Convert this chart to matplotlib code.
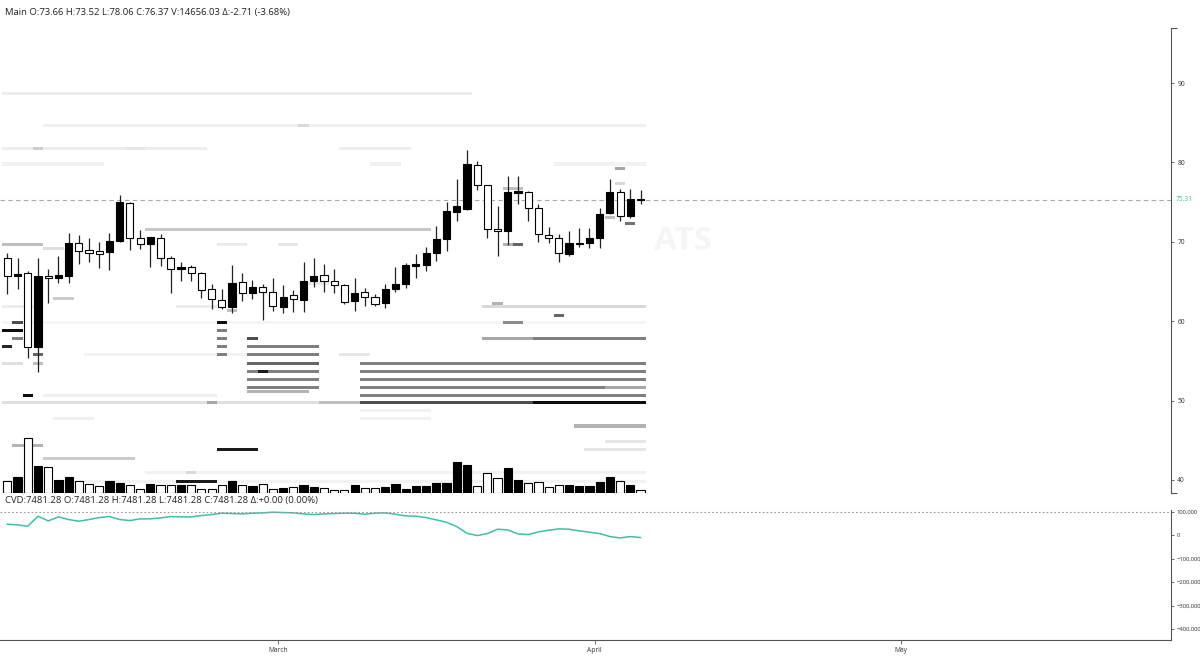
import numpy as np
import pandas as pd
import matplotlib
matplotlib.use('Agg')
import matplotlib.pyplot as plt
import matplotlib.dates as mdates

plt.rcParams['font.family'] = ['Open Sans', 'DejaVu Sans']

# daily candles, Feb 3 .. Apr 5
dates = pd.date_range('2024-02-03', periods=63, freq='D')

opens = [68.0, 65.7, 66.1, 56.8, 65.7, 65.5, 65.7, 69.8, 69.0, 68.8,
         68.7, 70.1, 74.9, 70.5, 69.7, 70.5, 67.9, 66.6, 66.8, 66.1,
         64.1, 62.7, 61.8, 64.9, 63.6, 64.3, 63.7, 61.8, 63.3, 62.7,
         65.1, 65.8, 65.1, 64.6, 62.5, 63.7, 63.0, 62.3, 64.0, 64.7,
         67.0, 67.1, 68.6, 70.3, 73.8, 74.1, 79.7, 77.1, 71.6, 71.3,
         76.2, 76.3, 74.3, 70.9, 70.5, 68.5, 69.7, 69.8, 70.5, 73.6,
         76.3, 73.2, 75.4]
highs = [68.6, 67.9, 66.3, 68.0, 66.6, 68.2, 71.1, 70.9, 70.5, 70.0,
         71.1, 75.9, 75.0, 71.5, 70.6, 71.0, 68.2, 67.4, 67.1, 66.2,
         64.7, 64.1, 67.1, 66.1, 65.2, 64.7, 65.5, 64.5, 63.9, 67.4,
         68.0, 67.2, 66.6, 64.7, 65.5, 64.2, 63.4, 64.7, 66.8, 67.3,
         68.5, 69.3, 72.0, 75.0, 77.9, 81.6, 80.2, 77.2, 74.5, 78.3,
         78.3, 76.4, 74.8, 71.9, 71.0, 71.4, 71.8, 71.8, 74.3, 77.9,
         76.6, 76.6, 76.5]
lows = [63.4, 64.1, 55.4, 53.6, 62.3, 64.8, 64.8, 67.2, 67.5, 66.7,
        66.5, 70.0, 69.0, 69.1, 66.8, 67.0, 63.6, 65.1, 65.0, 62.9,
        61.5, 61.5, 61.0, 62.5, 62.8, 60.2, 61.3, 61.0, 61.1, 61.1,
        64.3, 63.7, 63.5, 62.2, 61.3, 61.9, 61.9, 61.7, 63.7, 64.2,
        65.5, 66.3, 67.6, 68.8, 72.6, 74.0, 76.5, 70.5, 68.2, 69.6,
        74.8, 72.6, 70.0, 69.9, 67.4, 68.2, 69.4, 69.2, 69.2, 73.5,
        72.6, 73.0, 74.8]
closes = [65.7, 66.0, 56.8, 65.7, 65.5, 65.8, 69.9, 68.9, 68.6, 68.5,
          70.1, 75.0, 70.5, 69.7, 70.6, 67.9, 66.6, 66.8, 66.1, 63.9,
          62.8, 61.8, 64.8, 63.6, 64.3, 63.7, 61.9, 63.1, 62.8, 65.0,
          65.7, 65.0, 64.6, 62.4, 63.6, 63.0, 62.2, 64.1, 64.7, 67.1,
          67.2, 68.6, 70.3, 73.9, 74.5, 79.8, 77.1, 71.6, 71.3, 76.3,
          76.4, 74.2, 71.0, 70.5, 68.6, 69.8, 69.9, 70.5, 73.5, 76.3,
          73.2, 75.4, 75.3]
volumes = [3160, 4400, 14850, 7370, 7100, 3590, 4240, 3160, 2430, 1970,
           3160, 2620, 2240, 1080, 2430, 2240, 2240, 2240, 2160, 1080,
           1080, 2240, 3160, 2160, 1810, 2430, 1080, 1350, 1540, 2160,
           1700, 1270, 890, 890, 2160, 1270, 1270, 1700, 2430, 1080,
           1970, 1970, 2620, 2700, 8450, 7640, 1970, 5320, 3970, 6670,
           3590, 2700, 3050, 1700, 2160, 2240, 1810, 1810, 3050, 4400,
           3320, 2160, 890]
cvd = [47300, 44400, 38700, 81500, 61500, 78600, 67200, 60100, 67200, 75800,
       80100, 67200, 63000, 70100, 70100, 74400, 80100, 78600, 78600, 84300,
       88600, 94300, 92900, 91500, 94300, 95700, 98600, 97200, 95700, 91500,
       88600, 91500, 92900, 94300, 94300, 90000, 94300, 95700, 90000, 82900,
       81500, 75800, 65800, 55800, 37300, 8800, -1100, 7400, 25900, 23100,
       6000, 3100, 14500, 21700, 27400, 25900, 18800, 13100, 7400, -5400,
       -11100, -5400, -9700]
last_price = 75.31

# order-book heatmap: price level, first day index, last day index, intensity
heat_price = [88.7, 84.6, 84.6, 81.7, 81.7, 81.7, 81.7, 79.8, 79.8, 79.8,
              79.2, 77.4, 76.7, 72.3, 73.0, 71.6, 69.7, 69.7, 69.7, 69.7,
              69.7, 69.2, 68.7, 64.7, 62.8, 61.8, 61.8, 61.8, 62.2, 61.3,
              60.7, 59.8, 59.8, 59.8, 59.8, 58.8, 58.8, 57.8, 57.8, 57.8,
              57.8, 57.8, 56.8, 56.8, 56.8, 55.8, 55.8, 55.8, 55.8, 55.8,
              54.7, 54.7, 54.7, 54.7, 53.7, 53.7, 53.7, 52.7, 52.7, 51.7,
              51.7, 51.7, 51.2, 50.7, 50.7, 50.7, 49.7, 49.7, 49.7, 49.7,
              49.7, 48.8, 47.8, 47.8, 46.8, 44.9, 43.8, 43.8, 44.4, 42.7,
              39.8, 40.9, 40.9, 39.8]
heat_from = [0, 4, 29, 0, 3, 12, 33, 0, 36, 54,
             60, 60, 49, 61, 59, 14, 0, 21, 27, 49,
             50, 4, 54, 29, 5, 0, 17, 47, 48, 22,
             54, 0, 1, 21, 49, 0, 21, 1, 21, 24,
             47, 52, 0, 21, 24, 3, 21, 24, 8, 33,
             3, 0, 24, 35, 24, 25, 35, 24, 35, 24,
             35, 59, 24, 2, 4, 35, 0, 20, 31, 35,
             52, 35, 5, 35, 56, 59, 21, 57, 1, 4,
             17, 18, 14, 0]
heat_to = [45, 62, 29, 19, 3, 13, 39, 9, 38, 62,
           60, 60, 50, 61, 59, 41, 3, 23, 28, 50,
           50, 5, 55, 31, 6, 3, 20, 62, 48, 22,
           54, 62, 1, 21, 50, 1, 21, 1, 21, 24,
           51, 62, 0, 21, 30, 3, 21, 30, 23, 35,
           3, 1, 30, 62, 30, 25, 62, 30, 62, 30,
           58, 62, 29, 2, 20, 62, 34, 20, 34, 51,
           62, 41, 8, 41, 62, 62, 24, 62, 3, 12,
           20, 18, 62, 62]
heat_level = [0.07, 0.06, 0.15, 0.07, 0.2, 0.1, 0.07, 0.05, 0.06, 0.05,
              0.35, 0.15, 0.25, 0.55, 0.25, 0.22, 0.25, 0.08, 0.1, 0.3,
              0.6, 0.12, 0.1, 0.08, 0.2, 0.07, 0.08, 0.15, 0.3, 0.25,
              0.6, 0.04, 0.7, 0.95, 0.45, 0.95, 0.5, 0.5, 0.5, 0.7,
              0.35, 0.5, 0.85, 0.5, 0.5, 0.6, 0.5, 0.5, 0.05, 0.1,
              0.25, 0.12, 0.6, 0.5, 0.5, 0.9, 0.5, 0.5, 0.5, 0.5,
              0.5, 0.35, 0.3, 0.95, 0.06, 0.5, 0.12, 0.35, 0.25, 0.7,
              0.95, 0.05, 0.06, 0.05, 0.3, 0.1, 0.9, 0.1, 0.3, 0.2,
              0.9, 0.15, 0.05, 0.05]

month_ticks = ['2024-03-01', '2024-04-01', '2024-05-01']
month_labels = ['March', 'April', 'May']

title_main = 'Main O:73.66 H:73.52 L:78.06 C:76.37 V:14656.03 \u0394:-2.71 (-3.68%)'
title_cvd = ('CVD:7481.28 O:7481.28 H:7481.28 L:7481.28 C:7481.28 '
             '\u0394:+0.00 (0.00%)')

teal = '#3fbfa6'
axis_col = '#555555'

x = mdates.date2num(dates) + 0.5
day0 = mdates.date2num(dates)
march = mdates.date2num(pd.Timestamp('2024-03-01'))

fig = plt.figure(figsize=(12, 6.67), dpi=100)
W, H = 1200.0, 667.0
rect_main = [0, 1 - 493 / H, 1171 / W, (493 - 28) / H]
ax = fig.add_axes(rect_main)
axv = fig.add_axes(rect_main, sharex=ax)
axc = fig.add_axes([0, 1 - 640 / H, 1171 / W, (640 - 510) / H], sharex=ax)

ax.set_xlim(march - 27.22, march + 87.44)
ax.set_ylim(38.36, 96.93)

# faint watermark, mostly hidden behind the heatmap in the original
ax.text(712 / 1171, (493 - 242) / 465, 'ATS', transform=ax.transAxes,
        ha='right', va='center', fontsize=24, fontweight='bold',
        color='#f5f5f5', zorder=0)

# heatmap cells, lighter first so darker ones sit on top
for k in np.argsort(heat_level, kind='stable'):
    x0 = day0[0] + heat_from[k]
    w = heat_to[k] - heat_from[k] + 1
    ax.broken_barh([(x0, w)], (heat_price[k] - 0.19, 0.38),
                   facecolors=str(round(1 - heat_level[k], 3)),
                   edgecolor='none', zorder=1)

ax.axhline(last_price, color='#aaaaaa', lw=0.8, ls=(0, (4, 3)), zorder=2)

# candles
o = np.array(opens)
c = np.array(closes)
up = c >= o
body_col = np.where(up, 'black', 'white')
ax.vlines(x, lows, highs, color='#222222', lw=0.9, zorder=3)
ax.bar(x, np.maximum(np.abs(c - o), 0.12), bottom=np.minimum(o, c), width=0.7,
       color=body_col, edgecolor='black', linewidth=0.8, zorder=4)

# volume
axv.bar(x, volumes, width=0.8, color=body_col, edgecolor='black',
        linewidth=0.8, zorder=3)
axv.set_ylim(0, 125550)
axv.axis('off')
axv.patch.set_visible(False)

# price axis
for s in ['top', 'left', 'bottom']:
    ax.spines[s].set_visible(False)
ax.spines['right'].set_color(axis_col)
ax.yaxis.tick_right()
ax.set_yticks([40, 50, 60, 70, 80, 90])
ax.set_yticklabels(['40', '50', '60', '70', '80', '90'])
ax.yaxis.set_minor_locator(matplotlib.ticker.FixedLocator([38.36, 96.93]))
ax.tick_params(axis='y', which='major', length=2.5, width=0.6, color=axis_col,
               labelsize=4.8, labelcolor='#333333', pad=2)
ax.tick_params(axis='y', which='minor', length=4, width=0.8, color=axis_col)
ax.tick_params(axis='x', which='both', bottom=False, labelbottom=False)
ax.annotate(f'{last_price:.2f}', xy=(1, last_price),
            xycoords=('axes fraction', 'data'), xytext=(3, 0),
            textcoords='offset points', va='center', ha='left',
            fontsize=4.8, color=teal, annotation_clip=False)

# CVD panel
axc.plot(x, cvd, color=teal, lw=1.1)
axc.axhline(100000, color='#999999', lw=0.8, ls=(0, (1.5, 2)))
axc.set_ylim(-447000, 108000)
for s in ['top', 'left']:
    axc.spines[s].set_visible(False)
axc.spines['right'].set_color(axis_col)
axc.spines['bottom'].set_color(axis_col)
axc.yaxis.tick_right()
cvd_ticks = [100000, 0, -100000, -200000, -300000, -400000]
axc.set_yticks(cvd_ticks)
axc.set_yticklabels([f'{v:,}'.replace('-', '\u2212') for v in cvd_ticks])
axc.tick_params(axis='y', length=2.5, width=0.6, color=axis_col,
                labelsize=4.2, labelcolor='#333333', pad=1.5)
axc.set_xticks(mdates.date2num(pd.to_datetime(month_ticks)))
axc.set_xticklabels(month_labels)
axc.tick_params(axis='x', length=3, width=0.6, color=axis_col,
                labelsize=4.8, labelcolor='#333333', pad=2)
axc.patch.set_visible(False)

fig.text(5 / W, 1 - 12 / H, title_main, fontsize=6.8, va='center', ha='left',
         color='#222222')
fig.text(5 / W, 1 - 501 / H, title_cvd, fontsize=6.8, va='center', ha='left',
         color='#222222')

fig.savefig('out.png', dpi=100)
